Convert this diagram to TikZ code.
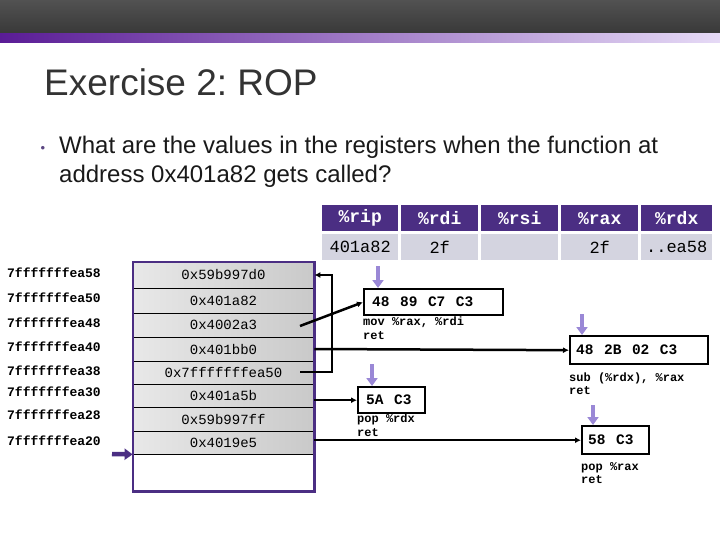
\documentclass[tikz,border=0pt]{standalone}
\usepackage{fontspec}
\setmainfont{Liberation Sans}
\newfontfamily\monofam{Liberation Mono}
\usetikzlibrary{arrows.meta,calc}
\frenchspacing
\definecolor{uwpurple}{HTML}{4B2E83}
\definecolor{lav}{HTML}{9A88D6}
\definecolor{cellgray}{HTML}{D4D4E0}
\definecolor{titlegray}{HTML}{333333}
\newcommand\setfs[1]{\fontsize{#1}{#1}\selectfont}
\newcommand\gsp{\hspace{10.5pt}}
\tikzset{
  hdr/.style={fill=uwpurple, text=white, font=\monofam\bfseries\setfs{18}, minimum height=26, inner sep=0, anchor=north west},
  val/.style={fill=cellgray, text=black, font=\monofam\setfs{17}, minimum height=26, inner sep=0, anchor=north west},
  srow/.style={draw=black, line width=0.8, left color=gray!18, right color=gray!42, minimum width=181, inner sep=0, font=\monofam\setfs{14}},
  addr/.style={anchor=west, inner sep=0, font=\monofam\bfseries\setfs{13}},
  gad/.style={draw=black, line width=2.4, anchor=north west, inner ysep=0, align=left, font=\monofam\bfseries\setfs{14.5}},
  note/.style={anchor=base west, inner sep=0, font=\monofam\bfseries\setfs{12}},
  conn/.style={draw=black, line width=2.5, -{Latex[length=6pt,width=6pt]}},
  lavarrow/.style={draw=lav, line width=3.5, -{Triangle[length=8pt,width=11pt]}},
}
\begin{document}
\begin{tikzpicture}[x=1pt,y=-1pt]
\useasboundingbox (0,0) rectangle (720,540);
% header bars
\shade[top color=black!68, bottom color=black!78] (0,0) rectangle (720,34);
\shade[left color={rgb,255:red,90;green,28;blue,150}, middle color={rgb,255:red,180;green,140;blue,228}, right color={rgb,255:red,230;green,218;blue,246}] (0,34) rectangle (720,43);
% title and question
\node[anchor=base west, inner sep=0, text=titlegray, font=\setfs{37}] (title) at (44,96) {Exercise 2: ROP};
\node[anchor=base, inner sep=0, text=uwpurple!70!gray, font=\setfs{13}] (bul) at (43,153) {\textbullet};
\node[anchor=base west, inner sep=0, text=black!90, font=\setfs{24}] (q1) at (59,154) {What are the values in the registers when the function at};
\node[anchor=base west, inner sep=0, text=black!90, font=\setfs{24}] (q2) at (59,183) {address 0x401a82 gets called?};
% register table
\node[hdr, minimum width=76] (hrip) at (322,205) {\%rip};
\node[hdr, minimum width=77] (hrdi) at (401,205) {\%rdi};
\node[hdr, minimum width=77] (hrsi) at (481,205) {\%rsi};
\node[hdr, minimum width=77] (hrax) at (561,205) {\%rax};
\node[hdr, minimum width=71] (hrdx) at (641,205) {\%rdx};
\node[val, minimum width=76] (vrip) at (322,234) {401a82};
\node[val, minimum width=77] (vrdi) at (401,234) {2f};
\node[val, minimum width=77] (vrsi) at (481,234) {};
\node[val, minimum width=77] (vrax) at (561,234) {2f};
\node[val, minimum width=71] (vrdx) at (641,234) {..ea58};
% stack
\node[fill=white, minimum width=181, minimum height=229, inner sep=0, anchor=north west] (stack) at (133,262) {};
\node[srow, minimum height=26] (s1) at (223.5,275) {0x59b997d0};
\node[srow, minimum height=25] (s2) at (223.5,300.5) {0x401a82};
\node[srow, minimum height=24] (s3) at (223.5,325) {0x4002a3};
\node[srow, minimum height=24] (s4) at (223.5,349) {0x401bb0};
\node[srow, minimum height=23] (s5) at (223.5,372.5) {0x7fffffffea50};
\node[srow, minimum height=23] (s6) at (223.5,395.5) {0x401a5b};
\node[srow, minimum height=24] (s7) at (223.5,419) {0x59b997ff};
\node[srow, minimum height=23] (s8) at (223.5,442.5) {0x4019e5};
\draw[uwpurple, line width=2.5] (stack.north west) rectangle (stack.south east);
% addresses
\node[addr] (a58) at (7,273) {7fffffffea58};
\node[addr] (a50) at (7,298) {7fffffffea50};
\node[addr] (a48) at (7,323) {7fffffffea48};
\node[addr] (a40) at (7,347) {7fffffffea40};
\node[addr] (a38) at (7,371) {7fffffffea38};
\node[addr] (a30) at (7,392) {7fffffffea30};
\node[addr] (a28) at (7,415) {7fffffffea28};
\node[addr] (a20) at (7,441) {7fffffffea20};
% stack pointer arrow
\coordinate (sp) at (112,454);
\draw[uwpurple, line width=4.5, -{Triangle[length=8pt,width=11pt]}] (sp) -- (s8.south west);
% gadgets
\node[gad, inner xsep=8, text width=123, minimum height=26] (g1) at (363,288) {48\gsp 89\gsp C7\gsp C3};
\node[gad, inner xsep=8, text width=51, minimum height=26] (g2) at (357,386) {5A\gsp C3};
\node[gad, inner xsep=6, text width=126, minimum height=28] (g3) at (569,335) {48\gsp 2B\gsp 02\gsp C3};
\node[gad, inner xsep=6, text width=55, minimum height=28] (g4) at (581,425) {58\gsp C3};
\node[note] (n1a) at (363,325) {mov \%rax, \%rdi};
\node[note] (n1b) at (363,339) {ret};
\node[note] (n2a) at (357,422) {pop \%rdx};
\node[note] (n2b) at (357,436) {ret};
\node[note] (n3a) at (569,381) {sub (\%rdx), \%rax};
\node[note] (n3b) at (569,394) {ret};
\node[note] (n4a) at (581,470) {pop \%rax};
\node[note] (n4b) at (581,483) {ret};
% lavender arrows
\coordinate (l1) at (378,266);
\coordinate (l2) at (372,364);
\coordinate (l3) at (582,314);
\coordinate (l4) at (593,405);
\draw[lavarrow] (l1) -- (l1 |- g1.north);
\draw[lavarrow] (l2) -- (l2 |- g2.north);
\draw[lavarrow] (l3) -- (l3 |- g3.north);
\draw[lavarrow] (l4) -- (l4 |- g4.north);
% connectors
\coordinate (p5) at (300,372);
\coordinate (p3) at (300,326);
\draw[conn] (p5) -- ++(32,0) |- (s1.east);
\draw[conn] (p3) -- (g1.west);
\draw[conn] (s4.east) -- (g3.west);
\draw[conn] (s6.east |- g2.west) -- (g2.west);
\draw[conn] (s8.east |- g4.west) -- (g4.west);
\end{tikzpicture}
\end{document}
